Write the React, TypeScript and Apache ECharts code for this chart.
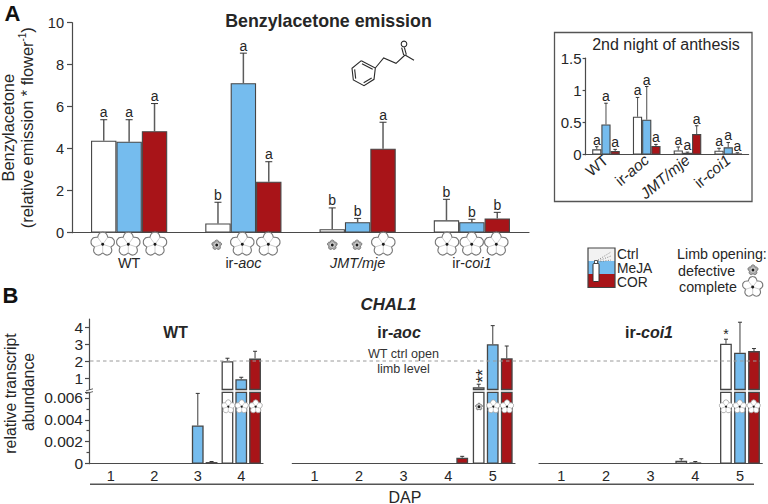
import React, { useEffect, useRef } from "react";
import * as echarts from "echarts";

const FONT = "'Liberation Sans', Arial, sans-serif";
const WHITE = "#ffffff";
const BLUE = "#75bcee";
const RED = "#a81418";
const EDGE = "#464646";
const INK = "#262626";

// Panel A, main chart
const groupsA = ["WT", "ir-aoc", "JMT/mje", "ir-coi1"];
const ctrlA = [4.38, 0.44, 0.17, 0.59];
const mejaA = [4.33, 7.12, 0.5, 0.5];
const corA = [4.83, 2.43, 4.0, 0.68];
const ctrlTopA = [5.38, 1.45, 1.18, 1.59];
const mejaTopA = [5.38, 8.55, 0.68, 0.64];
const corTopA = [6.15, 3.38, 5.26, 0.97];
const ctrlLetA = ["a", "b", "b", "b"];
const mejaLetA = ["a", "a", "b", "b"];
const corLetA = ["a", "a", "a", "b"];

// Panel A, inset
const ctrlI = [0.083, 0.59, 0.067, 0.062];
const mejaI = [0.47, 0.545, 0.03, 0.114];
const corI = [0.057, 0.135, 0.32, 0.02];
const ctrlTopI = [0.125, 0.89, 0.12, 0.1];
const mejaTopI = [0.8, 1.06, 0.04, 0.19];
const corTopI = [0.083, 0.16, 0.45, 0.03];
const lettersI = ["a", "a", "a", "a"];

// Panel B
const daysWT = ["1", "2", "3", "4"];
const daysAoc = ["1", "2", "3", "4", "5"];
const daysCoi = ["1", "2", "3", "4", "5"];
const ctrlWT = [null, null, null, 2.0];
const mejaWT = [null, null, 0.00348, 0.94];
const corWT = [null, null, 0.00015, 2.16];
const ctrlTopWT = [null, null, null, 2.18];
const mejaTopWT = [null, null, 0.0064, 1.06];
const corTopWT = [null, null, 0.0002, 2.59];
const ctrlAoc = [null, null, null, null, 0.47];
const mejaAoc = [null, null, null, null, 3.0];
const corAoc = [null, null, null, 0.00055, 2.18];
const ctrlTopAoc = [null, null, null, null, 0.65];
const mejaTopAoc = [null, null, null, null, 4.1];
const corTopAoc = [null, null, null, 0.00067, 2.9];
const ctrlCoi = [null, null, null, 0.00027, 3.03];
const mejaCoi = [null, null, null, 0.00012, 2.5];
const corCoi = [null, null, null, null, 2.6];
const ctrlTopCoi = [null, null, null, 0.00045, 3.3];
const mejaTopCoi = [null, null, null, 0.0002, 4.3];
const corTopCoi = [null, null, null, null, 2.75];
const starsCoi = ["", "", "", "", "*"];
const upperTicks = [1, 2, 3, 4];
const BREAK_VALUE = 0.3;

const LAYOUT = {
  main: { left: 72, width: 457, top: 22.7, height: 210, bar: 25.4, letter: 14 },
  inset: { left: 585.6, width: 163, top: 58.2, height: 96.5, bar: 9.2, letter: 14 },
};

type Num = number | null;

function barSeries(name: string, values: Num[], color: string, axis: number, width: number, gap: string, bw = 1.1) {
  return {
    type: "bar",
    name,
    data: values,
    xAxisIndex: axis,
    yAxisIndex: axis,
    barWidth: width,
    barGap: gap,
    itemStyle: { color, borderColor: EDGE, borderWidth: bw },
    silent: true,
    clip: true,
  };
}

function errorSeries(
  values: Num[],
  tops: Num[],
  letters: string[] | null,
  axis: number,
  offset: number,
  opts: { cap: number; font: number; gap: number; line?: number; color?: string },
) {
  const rows = values
    .map((v, i) => ({ v, top: tops[i], letter: letters ? letters[i] : "", i }))
    .filter((r) => r.v !== null && r.top !== null);
  return {
    type: "custom",
    xAxisIndex: axis,
    yAxisIndex: axis,
    silent: true,
    z: 1,
    encode: { x: 0, y: 1 },
    data: rows.map((r) => [r.i, r.v, r.top]),
    renderItem(params: any, api: any) {
      const row = rows[params.dataIndex];
      const base = api.coord([api.value(0), api.value(1)]);
      const top = api.coord([api.value(0), api.value(2)]);
      const x = base[0] + offset;
      const color = opts.color || "#5c5c5c";
      const children: any[] = [
        { type: "line", shape: { x1: x, y1: base[1], x2: x, y2: top[1] }, style: { stroke: color, lineWidth: opts.line || 1.5 } },
        { type: "line", shape: { x1: x - opts.cap / 2, y1: top[1], x2: x + opts.cap / 2, y2: top[1] }, style: { stroke: "#333333", lineWidth: 1 } },
      ];
      if (row.letter) {
        children.push({
          type: "text",
          style: {
            text: row.letter,
            x,
            y: top[1] - opts.gap,
            align: "center",
            verticalAlign: "bottom",
            fill: INK,
            font: `${opts.font}px ${FONT}`,
          },
        });
      }
      return { type: "group", children };
    },
  };
}

function labelFormatter(v: string) {
  if (v === "ir-aoc") return "ir-{i|aoc}";
  if (v === "ir-coi1") return "ir-{i|coi1}";
  if (v === "JMT/mje") return "{i|JMT/mje}";
  return v;
}

// Decorative icons
const r10 = 10;
function flowerPath() {
  const pts: string[] = [];
  const at = (a: number, r: number) => [r * Math.sin(a), -r * Math.cos(a)];
  const step = (2 * Math.PI) / 5;
  for (let i = 0; i < 5; i++) {
    const a = i * step;
    const n0 = at(a - step / 2, 7.4);
    const c0 = at(a - step * 0.27, 10.6);
    const t0 = at(a - step * 0.09, 10.2);
    const t1 = at(a + step * 0.09, 10.2);
    const c1 = at(a + step * 0.27, 10.6);
    const n1 = at(a + step / 2, 7.4);
    if (i === 0) pts.push(`M${n0[0].toFixed(2)} ${n0[1].toFixed(2)}`);
    pts.push(`Q${c0[0].toFixed(2)} ${c0[1].toFixed(2)} ${t0[0].toFixed(2)} ${t0[1].toFixed(2)}`);
    pts.push(`Q${at(a, 10.8)[0].toFixed(2)} ${at(a, 10.8)[1].toFixed(2)} ${t1[0].toFixed(2)} ${t1[1].toFixed(2)}`);
    pts.push(`Q${c1[0].toFixed(2)} ${c1[1].toFixed(2)} ${n1[0].toFixed(2)} ${n1[1].toFixed(2)}`);
  }
  return pts.join(" ") + " Z";
}
function veinPath() {
  const parts: string[] = [];
  const step = (2 * Math.PI) / 5;
  for (let i = 0; i < 5; i++) {
    const a = (i + 0.5) * step;
    parts.push(`M0 0 L${(7.4 * Math.sin(a)).toFixed(2)} ${(-7.4 * Math.cos(a)).toFixed(2)}`);
  }
  return parts.join(" ");
}
echarts.graphic.registerShape("flowerOutline", echarts.graphic.extendPath(flowerPath(), {}));
echarts.graphic.registerShape("flowerVeins", echarts.graphic.extendPath(veinPath(), {}));

function openFlower(x: number, y: number, r: number, small = false): any[] {
  const s = r / r10;
  return [
    { type: "flowerOutline", x, y, scaleX: s, scaleY: s, style: { fill: "#ffffff", stroke: small ? "#a0a0a0" : "#777777", lineWidth: (small ? 0.8 : 1.1) / s } },
    { type: "flowerVeins", x, y, scaleX: s, scaleY: s, style: { fill: "none", stroke: "#c8c8c8", lineWidth: 0.9 / s } },
    { type: "circle", shape: { cx: x, cy: y, r: small ? 1 : 1.5 }, style: { fill: "#1a1a1a" } },
  ];
}
function shutFlower(x: number, y: number, r = 4.6): any[] {
  const s = r / r10;
  return [
    { type: "flowerOutline", x, y, scaleX: s, scaleY: s, style: { fill: "#a8a8a8", stroke: "#6a6a6a", lineWidth: 0.8 / s } },
    { type: "circle", shape: { cx: x, cy: y, r: 2.6 }, style: { fill: "#d0d0d0" } },
    { type: "circle", shape: { cx: x, cy: y, r: 1.4 }, style: { fill: "#1a1a1a" } },
  ];
}

function text(t: string, x: number, y: number, size: number, extra: any = {}): any {
  const { rotation, rich, weight, style: fstyle, align, fill } = extra;
  return {
    type: "text",
    x,
    y,
    rotation: rotation || 0,
    style: {
      text: t,
      fill: fill || INK,
      align: align || "center",
      verticalAlign: "middle",
      font: `${fstyle || "normal"} ${weight || "normal"} ${size}px ${FONT}`,
      rich,
    },
  };
}

function moleculeGraphics(): any[] {
  const px = (z: number[]) => [290 + z[0] / 3, z[1] / 3];
  const stroke = { stroke: "#2a2a2a", lineWidth: 1.1, fill: "none" };
  const hex = [[214, 182], [256, 204], [252, 238], [222, 257], [190, 240], [186, 205], [214, 182]].map(px);
  const chain = [[256, 204], [281, 174], [318, 190], [345, 165], [372, 181]].map(px);
  const inner = [
    [[216, 191], [248, 208]],
    [[245, 234], [221, 248]],
    [[197, 236], [194, 208]],
  ];
  const els: any[] = [
    { type: "polyline", shape: { points: hex }, style: stroke },
    { type: "polyline", shape: { points: chain }, style: stroke },
  ];
  inner.forEach((l) => els.push({ type: "polyline", shape: { points: l.map(px) }, style: stroke }));
  els.push({ type: "polyline", shape: { points: [[341, 165], [335, 143]].map(px) }, style: stroke });
  els.push({ type: "polyline", shape: { points: [[349, 164], [343, 142]].map(px) }, style: stroke });
  els.push({ type: "circle", shape: { cx: 290 + 342 / 3, cy: 132 / 3, r: 2.8 }, style: stroke });
  return els;
}

function graphics(): any[] {
  const els: any[] = [];
  // panel letters and titles
  els.push(text("A", 12.5, 13, 22, { weight: "bold", fill: "#111" }));
  els.push(text("B", 10.5, 295, 22, { weight: "bold", fill: "#111" }));
  els.push(text("Benzylacetone emission", 328.5, 21, 17.8, { weight: "bold" }));
  els.push(text("CHAL1", 388.5, 304, 16.8, { weight: "bold", style: "italic" }));
  els.push(text("WT", 175.5, 332, 15.8, { weight: "bold" }));
  els.push(text("ir-{i|aoc}", 399, 332, 16, { weight: "bold", rich: { i: { font: `italic bold 16px ${FONT}`, fill: INK } } }));
  els.push(text("ir-{i|coi1}", 649, 332, 16, { weight: "bold", rich: { i: { font: `italic bold 16px ${FONT}`, fill: INK } } }));
  els.push(text("**", 483, 376, 17.5, { rotation: Math.PI / 2 }));

  // inset frame
  els.push({ type: "rect", shape: { x: 554.5, y: 32.5, width: 197.5, height: 169 }, style: { fill: "none", stroke: "#555", lineWidth: 1.3 }, z: -1 });
  els.push(text("2nd night of anthesis", 666, 44, 16));

  // flowers, panel A
  [102.7, 128.3, 155, 242.3, 268.3, 383.3, 447, 471.7, 496.3].forEach((x) => els.push(...openFlower(x, 244.3, 11.6)));
  [216.7, 332.3, 357].forEach((x) => els.push(...shutFlower(x, 245, 4.8)));

  // molecule
  els.push(...moleculeGraphics());

  // legend of treatments
  els.push({ type: "rect", shape: { x: 588, y: 248, width: 27, height: 13 }, style: { fill: "#f2f2f2" } });
  els.push({ type: "rect", shape: { x: 588, y: 261, width: 27, height: 13 }, style: { fill: BLUE } });
  els.push({ type: "rect", shape: { x: 588, y: 274, width: 27, height: 13.5 }, style: { fill: RED } });
  els.push({ type: "rect", shape: { x: 588, y: 248, width: 27, height: 39.5 }, style: { fill: "none", stroke: "#444", lineWidth: 1.2 } });
  els.push({ type: "rect", shape: { x: 593, y: 263.5, width: 6, height: 18, r: 1 }, style: { fill: "#fff", stroke: "#333", lineWidth: 1 } });
  els.push({ type: "rect", shape: { x: 594.5, y: 260.5, width: 3, height: 3 }, style: { fill: "#fff", stroke: "#333", lineWidth: 0.8 } });
  [[[598, 260], [611, 252]], [[598, 261], [611, 256]], [[598, 262], [611, 260]]].forEach((p) =>
    els.push({ type: "polyline", shape: { points: p }, style: { stroke: "#777", lineWidth: 0.9, lineDash: [1, 1.5], fill: "none" } }),
  );
  els.push(text("Ctrl", 617, 254, 13.8, { align: "left" }));
  els.push(text("MeJA", 617, 268, 13.8, { align: "left" }));
  els.push(text("COR", 617, 282, 13.8, { align: "left" }));

  // legend of limb opening
  els.push(text("Limb opening:", 677, 254, 14.3, { align: "left" }));
  els.push(text("defective", 678, 270.5, 14.3, { align: "left" }));
  els.push(text("complete", 679, 287, 14.3, { align: "left" }));
  els.push(...shutFlower(753, 270, 5));
  els.push(...openFlower(752.7, 287, 10));

  // panel B furniture
  els.push({ type: "line", shape: { x1: 90, y1: 361, x2: 760, y2: 361 }, style: { stroke: "#9a9a9a", lineWidth: 1, lineDash: [3.5, 3] }, z: 3 });
  els.push({ type: "line", shape: { x1: 90, y1: 484.3, x2: 754, y2: 484.3 }, style: { stroke: "#555", lineWidth: 1.6 } });
  els.push(text("DAP", 405, 497, 16));
  els.push(text("WT ctrl open", 403.5, 353.5, 12.6, { fill: "#333" }));
  els.push(text("limb level", 403.5, 369, 12.6, { fill: "#333" }));
  els.push(text("relative transcript", 10, 393.5, 15.8, { rotation: Math.PI / 2 }));
  els.push(text("abundance", 28.5, 392, 15.8, { rotation: Math.PI / 2 }));
  // axis break marks
  [389.8, 392.6].forEach((y) => els.push({ type: "line", shape: { x1: 86, y1: y + 1, x2: 93, y2: y - 1 }, style: { stroke: "#555", lineWidth: 0.9 } }));

  // flowers, panel B
  const fy = 406.7;
  [228.3, 241.7, 255.7, 493.3, 507, 726, 739.7, 753.7].forEach((x) => els.push(...openFlower(x, fy, 6.6, true)));
  els.push(...shutFlower(479, fy, 3.4));
  els.forEach((e) => (e.z = e.z === undefined ? 5 : e.z));
  return els;
}

function buildOption() {
  const grids: any[] = [];
  const xAxes: any[] = [];
  const yAxes: any[] = [];
  const series: any[] = [];
  const axisStyle = { lineStyle: { color: "#4a4a4a", width: 1.2 } };
  const rich = { i: { fontStyle: "italic", fontFamily: FONT, color: INK } };

  // 0: main panel A
  const m = LAYOUT.main;
  grids.push({ left: m.left, width: m.width, top: m.top, height: m.height, outerBoundsMode: "none" });
  xAxes.push({
    type: "category", gridIndex: 0, data: groupsA, axisLine: axisStyle,
    axisTick: { length: 4, lineStyle: axisStyle.lineStyle },
    axisLabel: { fontFamily: FONT, fontSize: 14.4, color: INK, margin: 23, formatter: labelFormatter, rich: { i: { ...rich.i, fontSize: 14.4 } } },
  });
  yAxes.push({
    type: "value", gridIndex: 0, min: 0, max: 10, interval: 2,
    axisLine: { show: true, ...axisStyle }, axisTick: { show: true, length: 5, lineStyle: axisStyle.lineStyle }, splitLine: { show: false },
    axisLabel: { fontFamily: FONT, fontSize: 14.6, color: INK, margin: 8 },
    name: "{t|Benzylacetone}\n{t|(relative emission * flower}{s|-1}{t|)}",
    nameLocation: "middle", nameGap: 32, nameRotate: 90,
    nameTextStyle: {
      lineHeight: 19,
      rich: {
        t: { fontFamily: FONT, fontSize: 16.4, color: INK, lineHeight: 19 },
        s: { fontFamily: FONT, fontSize: 10, color: INK, verticalAlign: "top", lineHeight: 15 },
      },
    },
  });
  const mErr = { cap: 7, font: m.letter, gap: 0.5 };
  series.push(barSeries("Ctrl", ctrlA, WHITE, 0, m.bar, "0%"), barSeries("MeJA", mejaA, BLUE, 0, m.bar, "0%"), barSeries("COR", corA, RED, 0, m.bar, "0%"));
  series.push(errorSeries(ctrlA, ctrlTopA, ctrlLetA, 0, -m.bar, mErr), errorSeries(mejaA, mejaTopA, mejaLetA, 0, 0, mErr), errorSeries(corA, corTopA, corLetA, 0, m.bar, mErr));

  // 1: inset
  const n = LAYOUT.inset;
  grids.push({ left: n.left, width: n.width, top: n.top, height: n.height, outerBoundsMode: "none" });
  xAxes.push({
    type: "category", gridIndex: 1, data: groupsA, axisLine: axisStyle,
    axisTick: { length: 3, lineStyle: axisStyle.lineStyle },
    axisLabel: { fontFamily: FONT, fontSize: 15.4, color: INK, margin: 3, rotate: 40, interval: 0, formatter: labelFormatter, rich: { i: { ...rich.i, fontSize: 15.4 } } },
  });
  yAxes.push({
    type: "value", gridIndex: 1, min: 0, max: 1.5, interval: 0.5,
    axisLine: { show: true, ...axisStyle }, axisTick: { show: true, length: 3, lineStyle: axisStyle.lineStyle }, splitLine: { show: false },
    axisLabel: { fontFamily: FONT, fontSize: 15, color: INK, margin: 4, formatter: (v: number) => String(v) },
  });
  const iErr = { cap: 3.5, font: n.letter, gap: 0, line: 1.1 };
  series.push(barSeries("Ctrl", ctrlI, WHITE, 1, n.bar, "0%"), barSeries("MeJA", mejaI, BLUE, 1, n.bar, "0%"), barSeries("COR", corI, RED, 1, n.bar, "0%"));
  series.push(errorSeries(ctrlI, ctrlTopI, lettersI, 1, -n.bar, iErr), errorSeries(mejaI, mejaTopI, lettersI, 1, 0, iErr), errorSeries(corI, corTopI, lettersI, 1, n.bar, iErr));

  // panel B: upper and lower part of each broken axis
  const upTop = 319, upBottom = 389.5, loTop = 392.3, loBottom = 463.7;
  const panels = [
    { left: 89, width: 174, days: daysWT, ctrl: ctrlWT, meja: mejaWT, cor: corWT, ct: ctrlTopWT, mt: mejaTopWT, rt: corTopWT, marks: null as string[] | null, pitch: 13.8, showY: true },
    { left: 292.3, width: 222.7, days: daysAoc, ctrl: ctrlAoc, meja: mejaAoc, cor: corAoc, ct: ctrlTopAoc, mt: mejaTopAoc, rt: corTopAoc, marks: null as string[] | null, pitch: 14, showY: false },
    { left: 539, width: 223.3, days: daysCoi, ctrl: ctrlCoi, meja: mejaCoi, cor: corCoi, ct: ctrlTopCoi, mt: mejaTopCoi, rt: corTopCoi, marks: starsCoi, pitch: 14, showY: false },
  ];
  let ax = 2;
  const bw = 11.8;
  panels.forEach((p) => {
    const gapPct = `${(((p.pitch - bw) / bw) * 100).toFixed(0)}%`;
    const high = (a: Num[]) => a.map((v) => (v !== null && v > BREAK_VALUE ? v : null));
    const lowOnly = (a: Num[]) => a.map((v) => (v !== null && v <= BREAK_VALUE ? v : null));
    // upper
    grids.push({ left: p.left, width: p.width, top: upTop, height: upBottom - upTop, outerBoundsMode: "none" });
    xAxes.push({ type: "category", gridIndex: ax, data: p.days, show: false });
    yAxes.push({
      type: "value", gridIndex: ax, min: 0.34, max: 4.49, show: p.showY,
      axisLine: { show: true, ...axisStyle },
      axisTick: { show: true, length: 4, lineStyle: axisStyle.lineStyle, customValues: upperTicks },
      axisLabel: { fontFamily: FONT, fontSize: 15.5, color: INK, margin: 6, customValues: upperTicks, formatter: (v: number) => String(v) },
      splitLine: { show: false },
    });
    series.push(barSeries("Ctrl", high(p.ctrl), WHITE, ax, bw, gapPct, 1.3), barSeries("MeJA", high(p.meja), BLUE, ax, bw, gapPct, 1.3), barSeries("COR", high(p.cor), RED, ax, bw, gapPct, 1.3));
    const eU = { cap: 4, font: 14, gap: -2, line: 1.2 };
    series.push(
      errorSeries(high(p.ctrl), p.ct, p.marks, ax, -p.pitch, eU),
      errorSeries(high(p.meja), p.mt, null, ax, 0, eU),
      errorSeries(high(p.cor), p.rt, null, ax, p.pitch, eU),
    );
    ax++;
    // lower
    grids.push({ left: p.left, width: p.width, top: loTop, height: loBottom - loTop, outerBoundsMode: "none" });
    xAxes.push({
      type: "category", gridIndex: ax, data: p.days, axisLine: axisStyle,
      axisTick: { length: 3, lineStyle: axisStyle.lineStyle },
      axisLabel: { fontFamily: FONT, fontSize: 14.5, color: INK, margin: 5 },
    });
    yAxes.push({
      type: "value", gridIndex: ax, min: 0, max: 0.0065, interval: 0.002, show: p.showY,
      axisLine: { show: true, ...axisStyle },
      axisTick: { show: true, length: 4, lineStyle: axisStyle.lineStyle },
      minorTick: { show: true, splitNumber: 2, length: 2.5, lineStyle: axisStyle.lineStyle },
      axisLabel: { fontFamily: FONT, fontSize: 15.5, color: INK, margin: 6, showMaxLabel: false, formatter: (v: number) => (v === 0 ? "0" : v.toFixed(3)) },
      splitLine: { show: false },
    });
    series.push(barSeries("Ctrl", p.ctrl, WHITE, ax, bw, gapPct, 1.3), barSeries("MeJA", p.meja, BLUE, ax, bw, gapPct, 1.3), barSeries("COR", p.cor, RED, ax, bw, gapPct, 1.3));
    const eL = { cap: 4, font: 13, gap: 0, line: 1.2 };
    series.push(
      errorSeries(lowOnly(p.ctrl), p.ct, null, ax, -p.pitch, eL),
      errorSeries(lowOnly(p.meja), p.mt, null, ax, 0, eL),
      errorSeries(lowOnly(p.cor), p.rt, null, ax, p.pitch, eL),
    );
    ax++;
  });

  return {
    animation: false,
    backgroundColor: "#ffffff",
    textStyle: { fontFamily: FONT },
    grid: grids,
    xAxis: xAxes,
    yAxis: yAxes,
    series,
    graphic: { elements: graphics() },
  };
}

export default function App() {
  const ref = useRef<HTMLDivElement>(null);
  useEffect(() => {
    document.body.style.margin = "0";
    const chart = echarts.init(ref.current!, undefined, { renderer: "svg" });
    chart.setOption(buildOption() as any);
    return () => chart.dispose();
  }, []);
  return <div ref={ref} style={{ position: "absolute", left: 0, top: 0, width: 768, height: 504 }} />;
}
